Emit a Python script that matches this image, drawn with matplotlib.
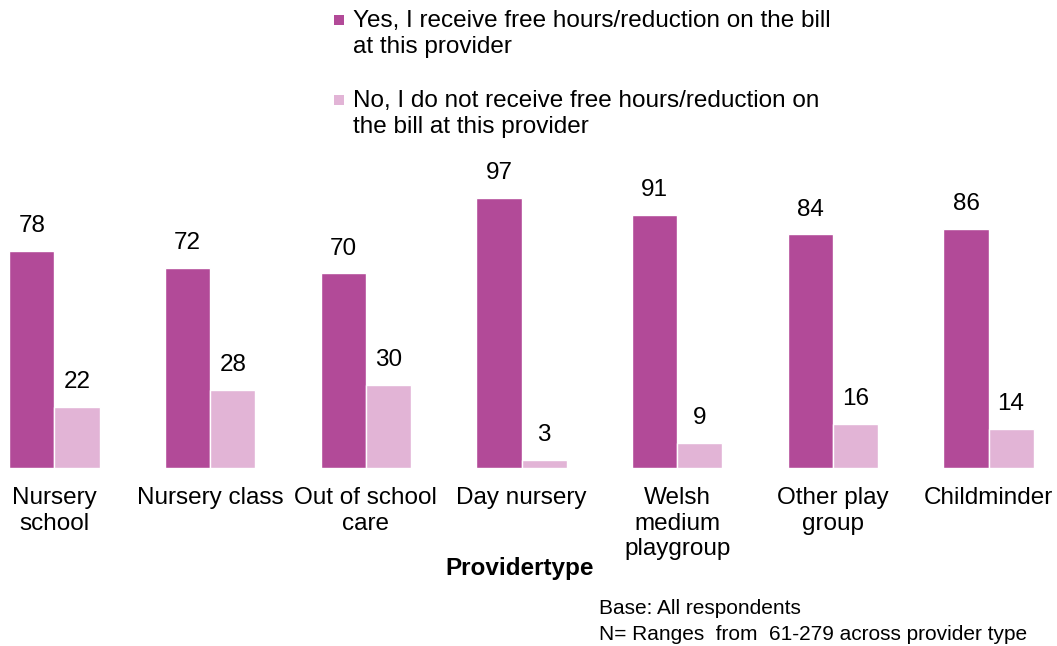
import numpy as np
import matplotlib
matplotlib.use("Agg")
import matplotlib.pyplot as plt
from matplotlib.patches import Rectangle

plt.rcParams['font.family'] = ['Liberation Sans', 'DejaVu Sans']

providers = ['Nursery\nschool', 'Nursery class', 'Out of school\ncare', 'Day nursery',
             'Welsh\nmedium\nplaygroup', 'Other play\ngroup', 'Childminder']
yes_vals = [78, 72, 70, 97, 91, 84, 86]
no_vals = [22, 28, 30, 3, 9, 16, 14]
yes_label = 'Yes, I receive free hours/reduction on the bill\nat this provider'
no_label = 'No, I do not receive free hours/reduction on\nthe bill at this provider'

c_yes = '#B24A98'
c_no = '#E2B4D6'
fs = 17.5
W, H = 1057, 646

fig = plt.figure(figsize=(W / 100, H / 100), dpi=100)
ax = fig.add_axes([0.0, 178 / H, 1043 / W, 278 / H])

x = np.arange(len(providers))
w = 0.29
b1 = ax.bar(x - w / 2, yes_vals, w, color=c_yes, edgecolor='white', linewidth=1)
b2 = ax.bar(x + w / 2, no_vals, w, color=c_no, edgecolor='white', linewidth=1)

for bars, vals in ((b1, yes_vals), (b2, no_vals)):
    for r, v in zip(bars, vals):
        ax.text(r.get_x() + r.get_width() / 2, v + 5, str(v), ha='center', va='bottom',
                fontsize=fs, clip_on=False)

ax.set_xlim(-0.35, 6.35)
ax.set_ylim(0, 100)
ax.set_yticks([])
ax.set_xticks(x)
ax.set_xticklabels(providers, fontsize=fs, linespacing=1.2)
ax.tick_params(axis='x', length=0, pad=14)
for s in ax.spines.values():
    s.set_visible(False)

fig.text(520 / W, 1 - 568 / H, 'Providertype', ha='center', va='center',
         fontsize=fs, fontweight='bold')

fig.text(599 / W, 1 - 608 / H, 'Base: All respondents', ha='left', va='center', fontsize=15)
fig.text(599 / W, 1 - 634 / H, 'N= Ranges  from  61-279 across provider type',
         ha='left', va='center', fontsize=15)

# legend drawn by hand so the swatch sits beside the first line of each entry
for lab, col, top in ((yes_label, c_yes, 15), (no_label, c_no, 95)):
    fig.patches.append(Rectangle((334 / W, 1 - (top + 10) / H), 10 / W, 10 / H,
                                 transform=fig.transFigure, facecolor=col, edgecolor='none'))
    fig.text(353 / W, 1 - (top + 19) / H, lab, ha='left', va='center',
             fontsize=fs, linespacing=1.28)

fig.savefig('out.png', dpi=100)
